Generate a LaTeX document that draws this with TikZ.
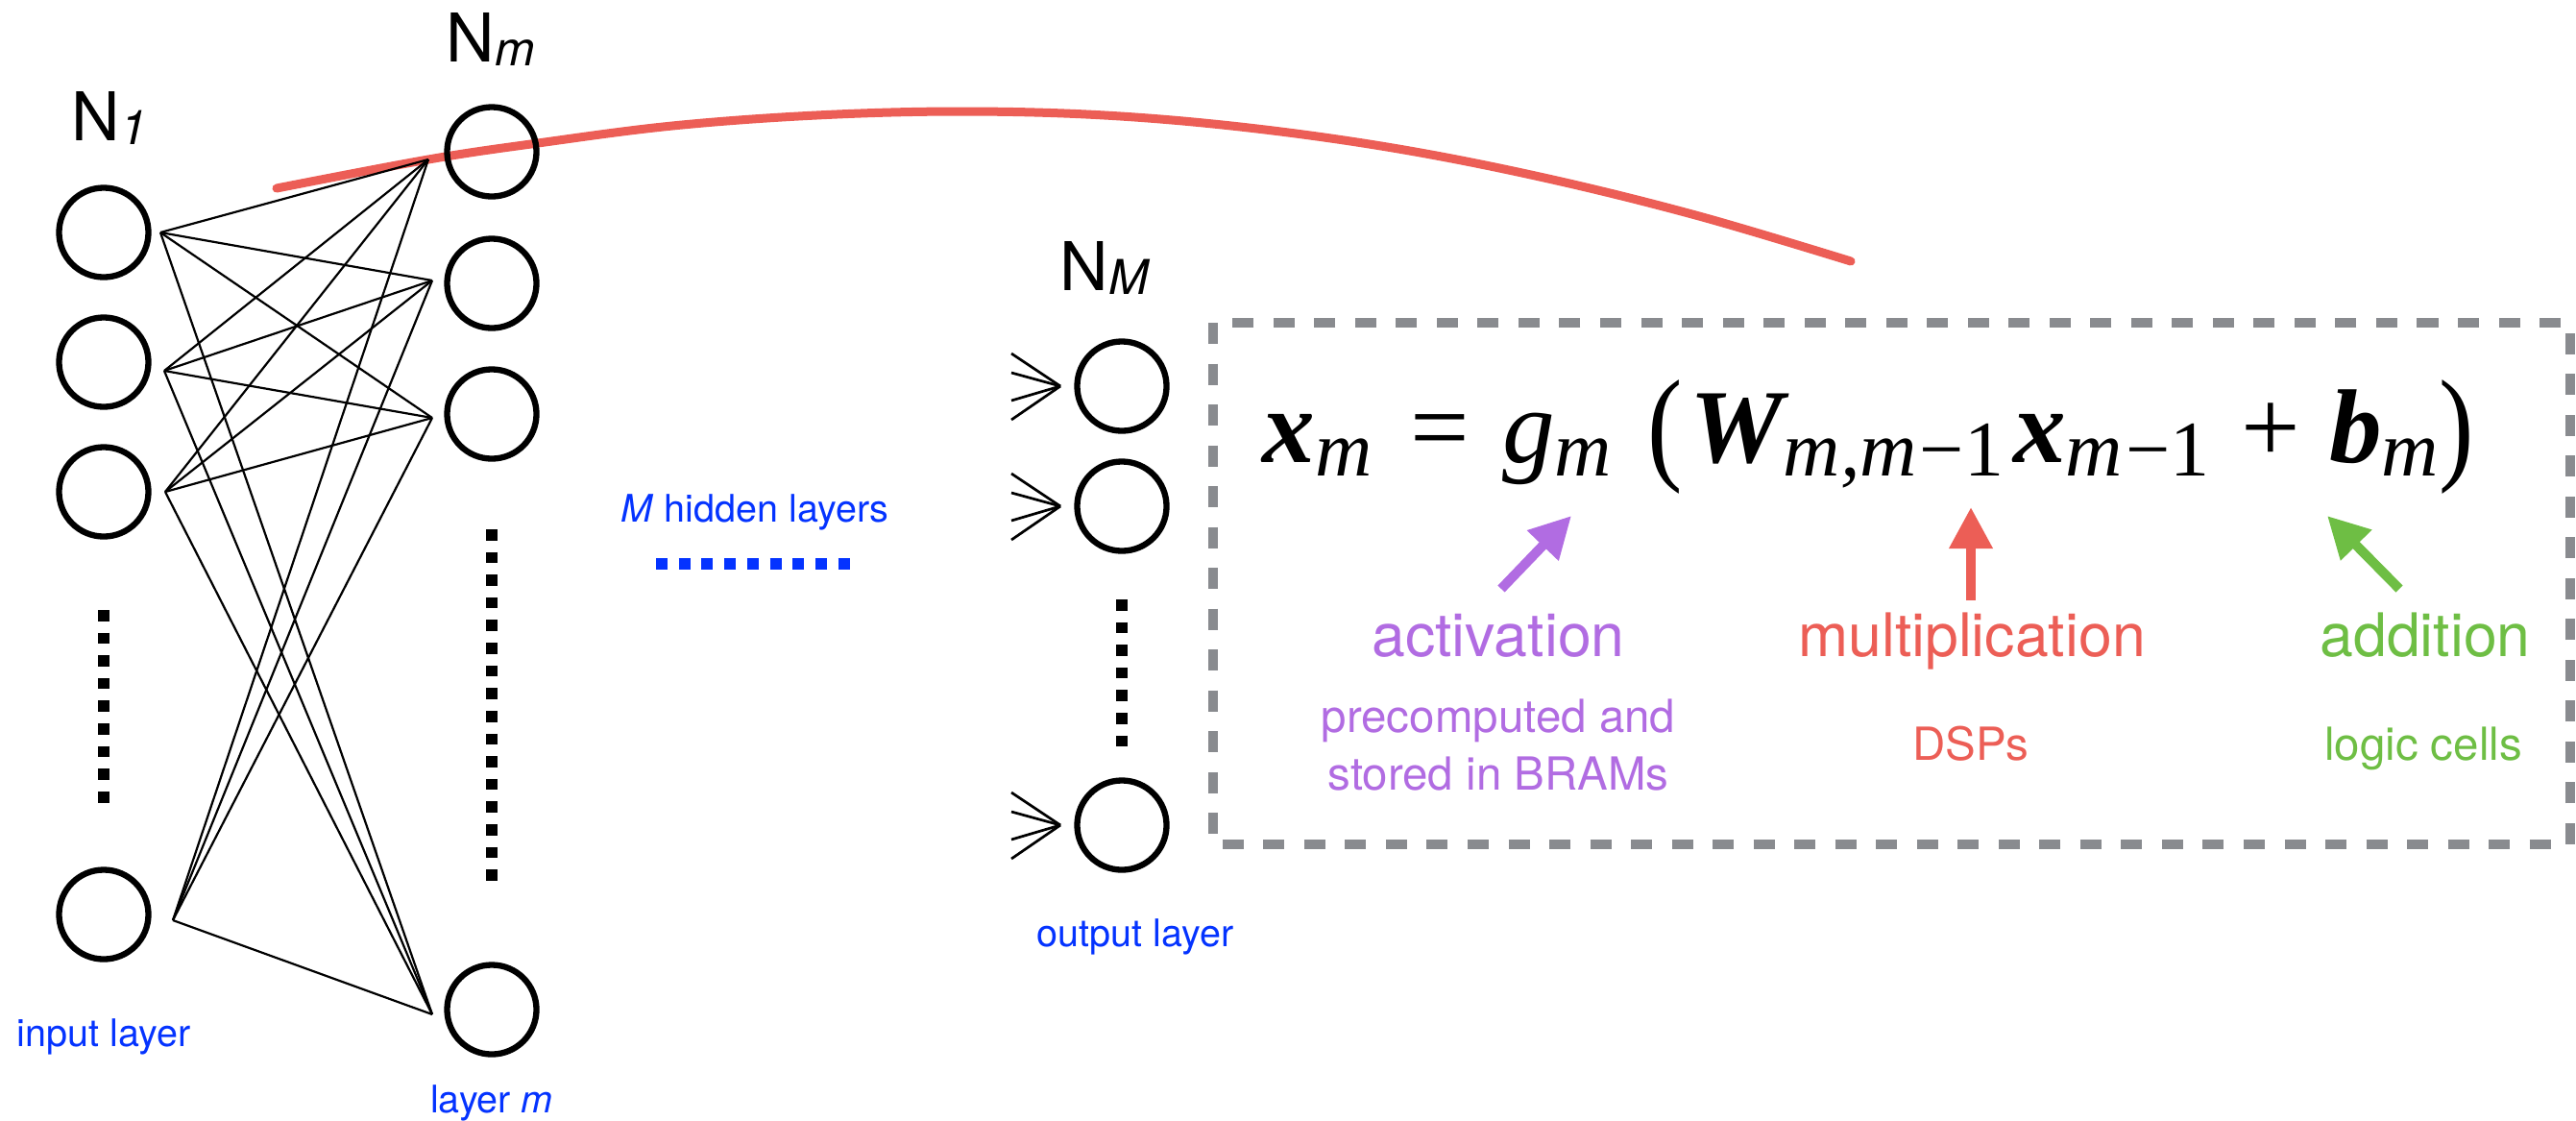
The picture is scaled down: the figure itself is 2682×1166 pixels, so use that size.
\documentclass[tikz,border=0pt]{standalone}
\usepackage[no-math]{fontspec}
\setmainfont{TeX Gyre Heros}
\newfontfamily\tms{Liberation Serif}
\usepackage{graphicx}
\usetikzlibrary{arrows.meta}
\definecolor{mred}{HTML}{EC5E56}
\definecolor{mpurple}{HTML}{B16CE2}
\definecolor{mgreen}{HTML}{6EBE44}
\definecolor{mgray}{HTML}{898B8F}
\definecolor{myblue}{HTML}{0433FF}
\newcommand\nsub[1]{\raisebox{-0.04cm}{\fontsize{14.2pt}{15pt}\selectfont\itshape #1}}
\newcommand\fsub[1]{\raisebox{-0.14cm}{\fontsize{23.3pt}{24pt}\selectfont\itshape #1}}
\newcommand\bi[1]{{\bfseries\itshape #1}}
\newcommand\bigparen[1]{\raisebox{-0.05cm}{\scalebox{1}[1.2]{#1}}}
\tikzset{
  neuron/.style={circle, draw, line width=0.063cm, minimum size=0.93cm, inner sep=0pt},
  edge/.style={line width=0.022cm},
  feed/.style={line width=0.027cm},
  vdots/.style={line width=0.116cm, dash pattern=on 0.116cm off 0.12cm},
  hdots/.style={myblue, line width=0.12cm, dash pattern=on 0.12cm off 0.117cm},
  boxdash/.style={mgray, line width=0.1cm, dash pattern=on 0.22cm off 0.205cm},
  arr/.style={line width=0.1cm, -{Triangle[length=0.43cm, width=0.43cm]}},
  biglab/.style={font=\fontsize{17.8pt}{20pt}\selectfont, inner sep=0pt, anchor=base},
  sublab/.style={font=\fontsize{13.5pt}{16pt}\selectfont, inner sep=0pt, anchor=base},
  bluelab/.style={font=\fontsize{11.24pt}{13pt}\selectfont, text=myblue, inner sep=0pt, anchor=base},
  nlab/.style={font=\fontsize{19.9pt}{22pt}\selectfont, inner sep=0pt, anchor=base west}
}
\begin{document}
\begin{tikzpicture}[x=0.01cm, y=-0.01cm]
\useasboundingbox (0,0) rectangle (2682,1166);

% red curve
\draw[mred, line width=0.09cm, line cap=round]
  plot[smooth, tension=0.6] coordinates {(288,196) (446,166) (560,149) (700,131) (850,120) (1000,116) (1150,120) (1300,133) (1456,155) (1612,186) (1769,225) (1927,272)};

% input layer
\node[neuron] (i1) at (108,242) {};
\node[neuron] (i2) at (108,377) {};
\node[neuron] (i3) at (108,512) {};
\node[neuron] (i4) at (108,952) {};
% layer m
\node[neuron] (m1) at (512,158) {};
\node[neuron] (m2) at (512,295) {};
\node[neuron] (m3) at (512,431) {};
\node[neuron] (m4) at (512,1051) {};
% output layer
\node[neuron] (o1) at (1168,402) {};
\node[neuron] (o2) at (1168,527) {};
\node[neuron] (o3) at (1168,859) {};

% connector end points
\coordinate (ip1) at (167,242);
\coordinate (ip2) at (171,386);
\coordinate (ip3) at (172,512);
\coordinate (ip4) at (180,958);
\coordinate (mp1) at (446,166);
\coordinate (mp2) at (450,292);
\coordinate (mp3) at (450,435);
\coordinate (mp4) at (450,1056);
\foreach \i in {1,...,4}{
  \foreach \j in {1,...,4}{
    \draw[edge] (ip\i) -- (mp\j);
  }
}

% feeding lines into the output neurons
\foreach \k/\c in {1/402, 2/527, 3/859}{
  \coordinate (t\k) at (1104,\c);
  \coordinate (fa\k) at (1053,\c-34);
  \coordinate (fb\k) at (1053,\c-14);
  \coordinate (fc\k) at (1053,\c+15);
  \coordinate (fd\k) at (1053,\c+35);
  \draw[feed] (fa\k) -- (t\k);
  \draw[feed] (fb\k) -- (t\k);
  \draw[feed] (fc\k) -- (t\k);
  \draw[feed] (fd\k) -- (t\k);
}

% dotted continuations
\draw[vdots] (108,635) -- (108,837);
\draw[vdots] (512,551) -- (512,917);
\draw[vdots] (1168,624) -- (1168,778);
\draw[hdots] (683,587) -- (886,587);

% layer labels
\node[nlab] (n1) at (74,146) {N\nsub{1}};
\node[nlab] (nm) at (464,64) {N\nsub{m}};
\node[nlab] (nM) at (1103,302) {N\nsub{M}};
\node[bluelab] (inl) at (108,1089) {input layer};
\node[bluelab] (lml) at (512,1158) {layer \textit{m}};
\node[bluelab] (outl) at (1182,985) {output layer};
\node[bluelab] (hid) at (786,543) {\textit{M} hidden layers};

% formula box
\draw[boxdash] (1263,336) rectangle (2676,879);
\node[anchor=base west, inner sep=0pt] (eq) at (1314,481)
  {\resizebox{12.6cm}{!}{\fontsize{31pt}{34pt}\selectfont\tms
   \bi{x}\fsub{m}\hspace{0.4cm}=\hspace{0.34cm}\textit{g}\fsub{m}\hspace{0.37cm}\bigparen{(}\hspace{0.08cm}\bi{W}\fsub{m,m\hspace{0.03cm}\textup{−1}}\hspace{0.1cm}\bi{x}\fsub{m\hspace{0.03cm}\textup{−1}}\hspace{0.33cm}+\hspace{0.3cm}\bi{b}\fsub{m}\bigparen{)}}};

% arrows
\coordinate (pa) at (1563,613); \coordinate (pb) at (1636,537);
\coordinate (ra) at (2052,625); \coordinate (rb) at (2052,528);
\coordinate (ga) at (2498,613); \coordinate (gb) at (2423,537);
\draw[arr, mpurple] (pa) -- (pb);
\draw[arr, mred] (ra) -- (rb);
\draw[arr, mgreen] (ga) -- (gb);

% labels under the formula
\node[biglab, text=mpurple] (act) at (1560,683) {activation};
\node[biglab, text=mred] (mul) at (2053,683) {multiplication};
\node[biglab, text=mgreen] (add) at (2525,683) {addition};
\node[sublab, text=mpurple] (act1) at (1560,762) {precomputed and};
\node[sublab, text=mpurple] (act2) at (1560,822) {stored in BRAMs};
\node[sublab, text=mred] (dsp) at (2052,791) {DSPs};
\node[sublab, text=mgreen] (lc) at (2523,791) {logic cells};
\end{tikzpicture}
\end{document}
